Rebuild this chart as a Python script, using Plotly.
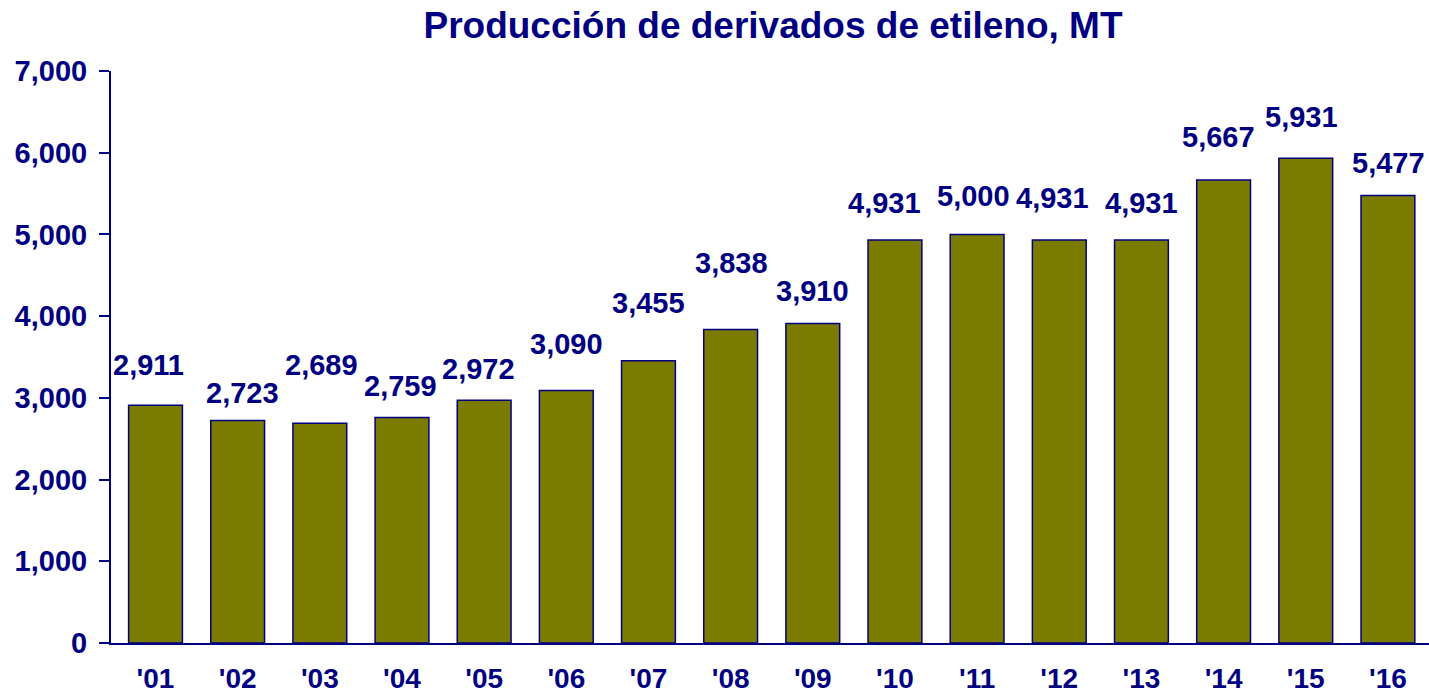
import plotly.graph_objects as go

years = ["'01", "'02", "'03", "'04", "'05", "'06", "'07", "'08",
         "'09", "'10", "'11", "'12", "'13", "'14", "'15", "'16"]
production = [2911, 2723, 2689, 2759, 2972, 3090, 3455, 3838,
              3910, 4931, 5000, 4931, 4931, 5667, 5931, 5477]
y_ticks = [0, 1000, 2000, 3000, 4000, 5000, 6000, 7000]
title_text = "Producción de derivados de etileno, MT"

# label placement offsets (pixels) relative to each bar top
label_dy = [40, 27, 58, 32, 31, 47, 58, 66, 33, 37, 38, 42, 37, 43, 41, 32]
label_dx = [-7, 5, 2, -1, -6, 0, 0, 1, 0, -10, -4, -7, 0, -5, -4, 1]

NAVY = "#000080"
OLIVE = "#7B7B00"
FONT = "Liberation Sans, Arial, sans-serif"

fig = go.Figure()
fig.add_trace(go.Bar(
    x=years, y=production,
    marker=dict(color=OLIVE, line=dict(color=NAVY, width=1.5)),
    hoverinfo="x+y",
))

for xv, yv, dx, dy in zip(years, production, label_dx, label_dy):
    fig.add_annotation(
        x=xv, y=yv, text=f"<b>{yv:,}</b>", showarrow=False,
        xanchor="center", yanchor="middle", xshift=dx, yshift=dy,
        font=dict(family=FONT, size=29, color=NAVY),
    )

fig.update_layout(
    width=1429, height=695,
    margin=dict(l=111, r=0, t=71, b=52, autoexpand=False),
    paper_bgcolor="white", plot_bgcolor="white",
    bargap=0.345,
    showlegend=False,
    title=dict(
        text=f"<b>{title_text}</b>",
        x=773 / 1429, xanchor="center", xref="container",
        y=1 - 25 / 695, yanchor="middle", yref="container",
        font=dict(family=FONT, size=37, color=NAVY),
    ),
)
fig.update_xaxes(
    showline=True, linecolor=NAVY, linewidth=2,
    showgrid=False, ticks="", zeroline=False, automargin=False,
    tickfont=dict(family=FONT, size=28, color=NAVY, weight="bold"),
    ticklabelstandoff=9,
)
fig.update_yaxes(
    range=[0, 7000], tickvals=y_ticks, tickformat=",d",
    showline=True, linecolor=NAVY, linewidth=2,
    showgrid=False, zeroline=False, automargin=False,
    ticks="outside", ticklen=10, tickwidth=2, tickcolor=NAVY,
    tickfont=dict(family=FONT, size=29, color=NAVY, weight="bold"),
    ticklabelstandoff=6,
)

fig.write_html(
    "out.html",
    config={"displayModeBar": False},
    post_script="document.body.style.margin='0';document.body.style.padding='0';",
)
